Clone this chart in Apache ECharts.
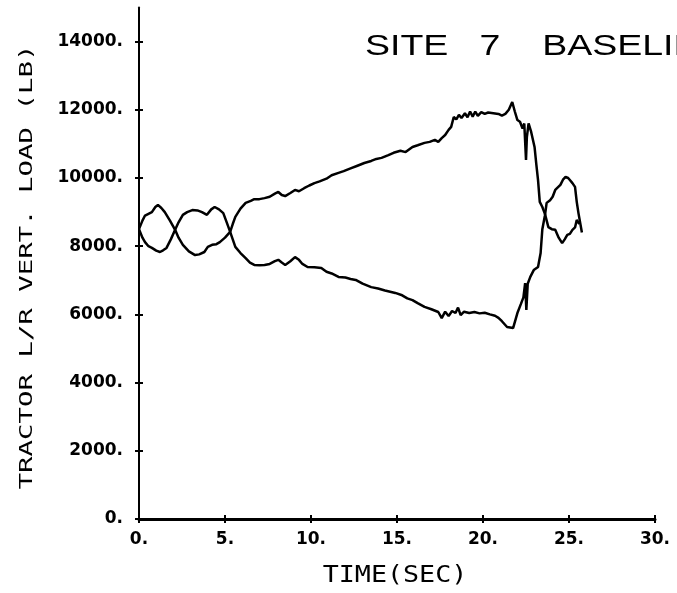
<!DOCTYPE html>
<html>
<head>
<meta charset="utf-8">
<script src="https://cdn.jsdelivr.net/npm/echarts@6/dist/echarts.min.js"></script>
<style>
html,body{margin:0;padding:0;background:#fff;}
#chart{width:677px;height:593px;}
</style>
</head>
<body>
<div id="chart"></div>
<script>
// ---- data ----
const titleText = 'SITE   7    BASELINE';
const xAxisTitle = 'TIME(SEC)';
const yAxisTitle = 'TRACTOR L/R VERT. LOAD (LB)';

const xTicks = [0, 5, 10, 15, 20, 25, 30];
const xTickLabels = ['0.', '5.', '10.', '15.', '20.', '25.', '30.'];
const yTicks = [0, 2000, 4000, 6000, 8000, 10000, 12000, 14000];
const yTickLabels = ['0.', '2000.', '4000.', '6000.', '8000.', '10000.', '12000.', '14000.'];

// left wheel trace (seconds, pounds)
const timeL = [0,0.2,0.35,0.55,0.75,0.95,1.1,1.3,1.5,1.8,2.1,2.3,2.55,2.9,3.26,3.5,3.8,4.0,4.25,4.5,4.7,5.0,5.3,5.45,5.6,5.9,6.2,6.5,6.7,7.0,7.3,7.6,7.9,8.1,8.3,8.5,8.8,9.07,9.3,9.6,9.9,10.2,10.5,10.9,11.2,11.6,11.9,12.3,12.7,13.1,13.5,13.8,14.1,14.5,14.8,15.2,15.5,15.9,16.2,16.6,16.9,17.2,17.4,17.6,17.8,18.0,18.15,18.3,18.45,18.6,18.75,18.95,19.1,19.25,19.4,19.55,19.7,19.9,20.1,20.3,20.6,20.9,21.1,21.3,21.5,21.7,21.85,22.0,22.15,22.3,22.4,22.5,22.55,22.65,22.8,23.0,23.1,23.2,23.3,23.45,23.6,23.8,24.0,24.2,24.4,24.6,24.75,24.9,25.05,25.2,25.35,25.45,25.6];
const loadL = [8500,8750,8900,8950,9000,9150,9210,9120,9000,8750,8480,8250,8040,7850,7740,7760,7830,7980,8040,8060,8120,8250,8420,8650,8860,9100,9270,9330,9380,9380,9410,9450,9540,9590,9500,9470,9560,9650,9610,9700,9780,9850,9900,9980,10080,10150,10200,10280,10360,10440,10500,10560,10590,10670,10740,10800,10760,10910,10960,11030,11060,11120,11060,11170,11260,11410,11500,11790,11720,11850,11760,11900,11780,11950,11800,11950,11820,11930,11880,11920,11900,11880,11830,11880,12000,12230,11950,11700,11650,11450,11600,10530,11200,11600,11350,10900,10400,9940,9300,9150,8950,8560,8500,8480,8250,8090,8200,8330,8360,8480,8550,8770,8650];

// right wheel trace (seconds, pounds)
const timeR = [0,0.2,0.35,0.55,0.75,1.0,1.22,1.4,1.6,1.85,2.1,2.3,2.55,2.8,3.1,3.4,3.66,3.95,4.2,4.4,4.65,4.9,5.1,5.3,5.45,5.6,5.9,6.2,6.45,6.7,7.0,7.3,7.6,7.9,8.1,8.3,8.5,8.8,9.07,9.3,9.5,9.8,10.2,10.6,10.9,11.2,11.6,12.0,12.3,12.6,13.0,13.5,13.9,14.3,14.9,15.3,15.6,15.9,16.2,16.6,17.0,17.4,17.6,17.8,18.0,18.2,18.4,18.55,18.7,18.9,19.2,19.5,19.8,20.1,20.4,20.7,20.9,21.1,21.4,21.75,22.0,22.2,22.35,22.45,22.52,22.6,22.75,22.95,23.2,23.35,23.45,23.6,23.7,23.9,24.05,24.2,24.5,24.65,24.8,24.95,25.05,25.2,25.35,25.45,25.55,25.75];
const loadR = [8500,8250,8120,8000,7950,7870,7830,7880,7950,8200,8480,8700,8920,9000,9060,9050,9000,8920,9080,9150,9080,8970,8700,8420,8200,7980,7800,7650,7520,7450,7440,7450,7480,7560,7600,7520,7450,7560,7680,7600,7480,7390,7380,7360,7250,7200,7100,7080,7040,7010,6900,6800,6760,6700,6630,6560,6470,6420,6330,6220,6150,6070,5890,6080,5950,6100,6040,6200,5980,6080,6040,6070,6030,6050,6000,5960,5900,5800,5630,5600,6040,6300,6500,6920,6130,6900,7100,7300,7390,7800,8500,8900,9270,9350,9450,9650,9800,9950,10030,10000,9940,9850,9740,9300,8970,8400];

function pairs(ts, vs) { return ts.map((t, i) => [t, vs[i]]); }
function labelFor(ticks, labels) { return v => { const i = ticks.indexOf(v); return i >= 0 ? labels[i] : ''; }; }

const labelFont = { fontFamily: 'DejaVu Sans', fontWeight: 'bold', fontSize: 17, color: '#000' };

const chart = echarts.init(document.getElementById('chart'), null, { renderer: 'canvas' });
chart.setOption({
  backgroundColor: '#fff',
  animation: false,
  graphic: [
    {
      type: 'text', x: 365, y: 47, scaleX: 1.25, silent: true,
      style: { text: titleText, font: '30px "Liberation Sans"', fill: '#000', textAlign: 'left', textVerticalAlign: 'middle' }
    },
    {
      type: 'text', x: 27, y: 267, rotation: Math.PI / 2, scaleX: 1.52, silent: true,
      style: { text: yAxisTitle, font: '18px "DejaVu Sans Mono"', fill: '#000', textAlign: 'center', textVerticalAlign: 'middle' }
    },
    {
      type: 'text', x: 395, y: 576, scaleX: 1.16, silent: true,
      style: { text: xAxisTitle, font: '23px "DejaVu Sans Mono"', fill: '#000', textAlign: 'center', textVerticalAlign: 'middle' }
    }
  ],
  grid: { left: 139, right: 22, top: 7.5, bottom: 74, containLabel: false },
  xAxis: [
    {
      type: 'value', min: 0, max: 30, interval: 5,
      axisLine: { show: true, onZero: false, lineStyle: { color: '#000', width: 3 } },
      axisTick: { show: true, length: 4, inside: false, lineStyle: { color: '#000', width: 2 }, customValues: xTicks },
      axisLabel: { show: true, margin: 12, customValues: xTicks, formatter: labelFor(xTicks, xTickLabels), ...labelFont },
      splitLine: { show: false }
    },
    {
      type: 'value', min: 0, max: 30, interval: 5, position: 'bottom',
      axisLine: { show: false },
      axisTick: { show: true, length: 4, inside: true, lineStyle: { color: '#000', width: 2 }, customValues: xTicks },
      axisLabel: { show: false },
      splitLine: { show: false }
    }
  ],
  yAxis: [
    {
      type: 'value', min: 0, max: 15000, interval: 2000,
      axisLine: { show: true, onZero: false, lineStyle: { color: '#000', width: 2 } },
      axisTick: { show: true, length: 4, inside: false, lineStyle: { color: '#000', width: 2 }, customValues: yTicks },
      axisLabel: { show: true, margin: 16, customValues: yTicks, formatter: labelFor(yTicks, yTickLabels), ...labelFont },
      splitLine: { show: false }
    },
    {
      type: 'value', min: 0, max: 15000, interval: 2000, position: 'left',
      axisLine: { show: false },
      axisTick: { show: true, length: 4, inside: true, lineStyle: { color: '#000', width: 2 }, customValues: yTicks },
      axisLabel: { show: false },
      splitLine: { show: false }
    }
  ],
  series: [
    {
      type: 'line', name: 'L', xAxisIndex: 0, yAxisIndex: 0,
      data: pairs(timeL, loadL), showSymbol: false, symbol: 'none',
      lineStyle: { color: '#000', width: 2.5 }
    },
    {
      type: 'line', name: 'R', xAxisIndex: 0, yAxisIndex: 0,
      data: pairs(timeR, loadR), showSymbol: false, symbol: 'none',
      lineStyle: { color: '#000', width: 2.5 }
    }
  ]
});
</script>
</body>
</html>
